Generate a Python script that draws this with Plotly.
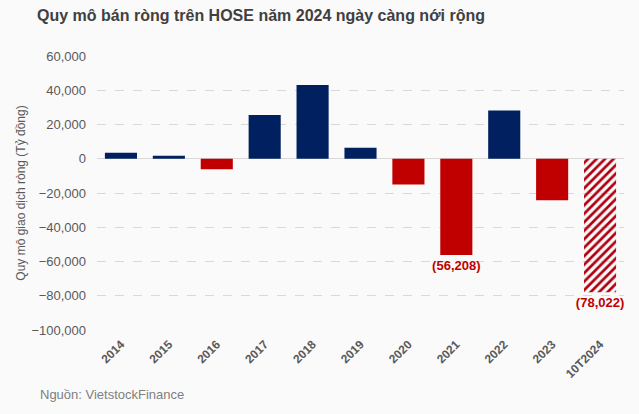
import plotly.graph_objects as go

categories = ["2014", "2015", "2016", "2017", "2018", "2019", "2020", "2021", "2022", "2023", "10T2024"]
values = [3500, 1800, -6100, 25600, 43100, 6400, -15000, -56208, 28200, -24300, -78022]
labels = ["", "", "", "", "", "", "", "(56,208)", "", "", "(78,022)"]
tick_vals = [60000, 40000, 20000, 0, -20000, -40000, -60000, -80000, -100000]

NAVY = "#002060"
RED = "#C00000"
colors = [NAVY if v > 0 else RED for v in values]
colors[-1] = "#B00010"
shapes = [""] * (len(values) - 1) + ["/"]

fig = go.Figure()
fig.add_trace(go.Bar(
    x=categories, y=values,
    marker=dict(color=colors, line=dict(width=0),
                pattern=dict(shape=shapes, fillmode="replace", size=6, solidity=0.45,
                             bgcolor="#FFFFFF")),
    width=0.67,
    text=labels, textposition="outside", cliponaxis=False, constraintext="none",
    textfont=dict(family="Liberation Sans", size=13, color=RED, weight="bold"),
    hoverinfo="skip",
))

fig.update_layout(
    width=639, height=414,
    margin=dict(l=97, r=15, t=56, b=84),
    paper_bgcolor="#FAFAFA", plot_bgcolor="#FAFAFA",
    showlegend=False,
    font=dict(family="Liberation Sans", color="#595959", size=12),
    title=dict(text="<b>Quy mô bán ròng trên HOSE năm 2024 ngày càng nới rộng</b>",
               x=261/639, xanchor="center", xref="container", y=1 - 15/414, yanchor="middle",
               yref="container",
               font=dict(family="Liberation Sans", size=16, color="#404040")),
    bargap=0.33,
)
fig.update_xaxes(showgrid=False, tickangle=-45, showline=False, ticks="",
                 ticklabelstandoff=4,
                 tickfont=dict(size=12, color="#595959", weight="bold"))
fig.update_yaxes(range=[-100000, 60000], tickvals=tick_vals, tickformat=",",
                 showgrid=True, gridcolor="#D9D9D9", griddash="dash", gridwidth=1,
                 zeroline=True, zerolinecolor="#D9D9D9", zerolinewidth=1,
                 ticks="", ticklabelstandoff=10,
                 tickfont=dict(size=13, color="#595959"),
                 title=dict(text="Quy mô giao dịch ròng (Tỷ đồng)", standoff=3,
                            font=dict(size=12, color="#595959")))
fig.add_annotation(text="Nguồn: VietstockFinance", xref="paper", yref="paper",
                   x=-59/527, y=-(394 - 330) / 274, xanchor="left", yanchor="middle",
                   showarrow=False, font=dict(size=13, color="#7F7F7F"))

fig.write_html("out.html", config={"displayModeBar": False},
               post_script="document.body.style.margin='0';document.body.style.background='#FAFAFA';")
